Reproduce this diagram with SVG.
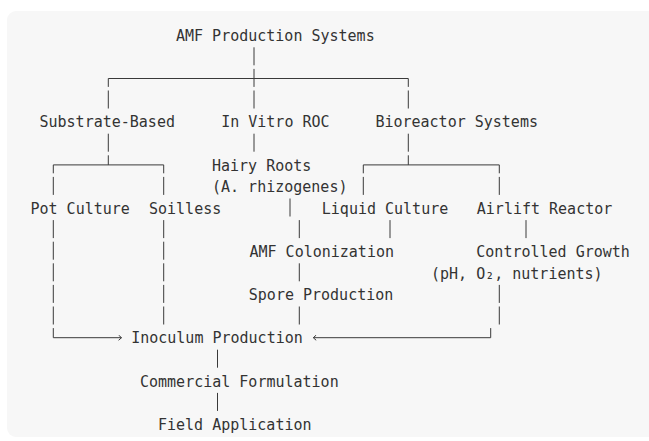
<svg xmlns="http://www.w3.org/2000/svg" width="649" height="441" viewBox="0 0 649 441">
<style>
  .t { font-family: "DejaVu Sans Mono", "Liberation Mono", monospace; font-size: 15px; fill: #333333; }
  .c { fill: none; stroke: #3a3a3a; stroke-width: 1; }
</style>
<defs>
  <marker id="arr" viewBox="0 0 4 6" refX="3.2" refY="3" markerWidth="4" markerHeight="6" markerUnits="userSpaceOnUse" orient="auto">
    <path d="M0.3,0.4 L3.2,3 L0.3,5.6" fill="none" stroke="#3a3a3a" stroke-width="1"/>
  </marker>
</defs>
<rect x="7" y="11" width="670" height="426" rx="9" fill="#f7f7f7"/>
<g id="connectors" class="c">
  <path d="M254 47.3V65.3 M254 68.9V86.9 M254 90.5V108.5 M254 133.7V151.7"/>
  <path d="M108.3 78.5H408.3"/>
  <path d="M108.3 78.5V86.9 M108.3 90.5V108.5 M108.3 133.7V151.7 M108.3 155.3V164.9"/>
  <path d="M408.3 78.5V86.9 M408.3 90.5V108.5 M408.3 133.7V151.7 M408.3 155.3V164.9"/>
  <path d="M53.3 164.9H163.7"/>
  <path d="M363.3 164.9H499.3"/>
  <path d="M53.3 164.9V173.3 M53.3 176.9V194.9 M53.3 220.1V238.1 M53.3 241.7V259.7 M53.3 263.3V281.3 M53.3 284.9V302.9 M53.3 306.5V324.5"/>
  <path d="M163.7 164.9V173.3 M163.7 176.9V194.9 M163.7 220.1V238.1 M163.7 241.7V259.7 M163.7 263.3V281.3 M163.7 284.9V302.9 M163.7 306.5V324.5"/>
  <path d="M363.3 164.9V173.3 M363.3 176.9V194.9"/>
  <path d="M499.3 164.9V173.3 M499.3 176.9V194.9 M499.3 284.9V302.9 M499.3 306.5V324.5"/>
  <path d="M290 198.5V216.5"/>
  <path d="M299.3 220.1V238.1 M299.3 263.3V281.3 M299.3 306.5V324.5"/>
  <path d="M390 220.1V238.1"/>
  <path d="M526 220.1V238.1"/>
  <path d="M53.3 328.1V337.7H121.5" marker-end="url(#arr)"/>
  <path d="M490.7 328.1V337.7H313.3" marker-end="url(#arr)"/>
  <path d="M217.5 349.7V367.7 M217.5 392.9V410.9"/>
</g>
<g id="amf-production-systems"><text class="t" x="176" y="41">AMF Production Systems</text></g>
<g id="substrate-based"><text class="t" x="39.5" y="127.4">Substrate-Based</text></g>
<g id="in-vitro-roc"><text class="t" x="221.2" y="127.4">In Vitro ROC</text></g>
<g id="bioreactor-systems"><text class="t" x="375.4" y="127.4">Bioreactor Systems</text></g>
<g id="hairy-roots"><text class="t" x="212" y="170.6">Hairy Roots</text><text class="t" x="212" y="192.2">(A. rhizogenes)</text></g>
<g id="pot-culture"><text class="t" x="30.5" y="213.8">Pot Culture</text></g>
<g id="soilless"><text class="t" x="149" y="213.8">Soilless</text></g>
<g id="liquid-culture"><text class="t" x="321.8" y="213.8">Liquid Culture</text></g>
<g id="airlift-reactor"><text class="t" x="476.8" y="213.8">Airlift Reactor</text></g>
<g id="amf-colonization"><text class="t" x="249.5" y="257">AMF Colonization</text></g>
<g id="controlled-growth"><text class="t" x="476.3" y="257">Controlled Growth</text><text class="t" x="431" y="278.6">(pH, O₂, nutrients)</text></g>
<g id="spore-production"><text class="t" x="248.8" y="300.2">Spore Production</text></g>
<g id="inoculum-production"><text class="t" x="131.2" y="343.4">Inoculum Production</text></g>
<g id="commercial-formulation"><text class="t" x="140" y="386.6">Commercial Formulation</text></g>
<g id="field-application"><text class="t" x="158" y="429.8">Field Application</text></g>
</svg>
